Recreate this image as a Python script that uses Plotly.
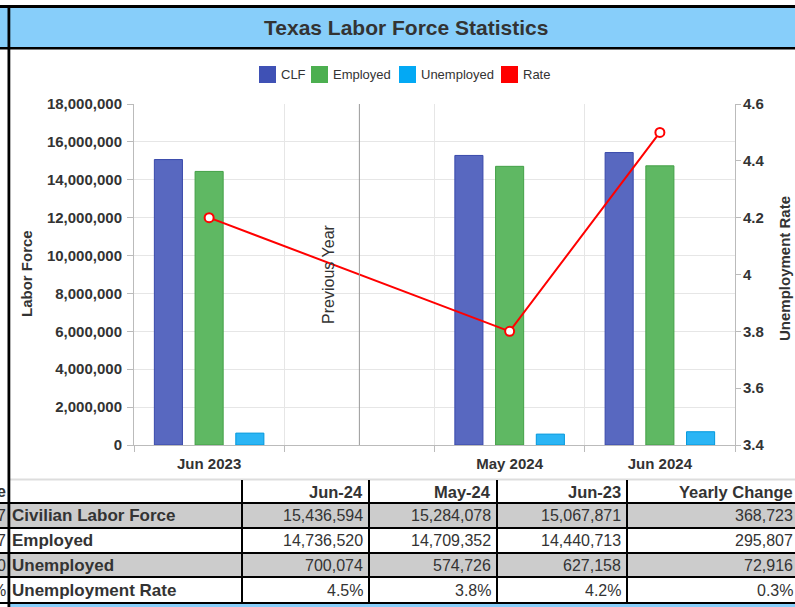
import plotly.graph_objects as go

# ---------------- data ----------------
categories = ["Jun 2023", " ", "May 2024", "Jun 2024"]
clf = [15067871, None, 15284078, 15436594]
employed = [14440713, None, 14709352, 14736520]
unemployed = [627158, None, 574726, 700074]
rate = [4.2, None, 3.8, 4.5]

series_names = ["CLF", "Employed", "Unemployed", "Rate"]

table_headers = ["Jun-24", "May-24", "Jun-23", "Yearly Change"]
table_labels = ["Civilian Labor Force", "Employed", "Unemployed", "Unemployment Rate"]
col_jun24 = ["15,436,594", "14,736,520", "700,074", "4.5%"]
col_may24 = ["15,284,078", "14,709,352", "574,726", "3.8%"]
col_jun23 = ["15,067,871", "14,440,713", "627,158", "4.2%"]
col_yearly = ["368,723", "295,807", "72,916", "0.3%"]
edge_texts = ["e", "7", "7", "0", "%"]

# ---------------- styling ----------------
W, H = 795, 607
FONT = "Liberation Sans, Arial, Helvetica, sans-serif"
TXT = "#333333"
AXIS_GRAY = "#bbbbbb"
GRID = "#e6e6e6"
BAND = "#87cefa"


def px(x):
    return x / W


def py(y):
    return 1 - y / H


fig = go.Figure()

bar_styles = [
    (series_names[0], clf, "#5868c0", "#3949ab"),
    (series_names[1], employed, "#5fb863", "#43a047"),
    (series_names[2], unemployed, "#2bb5f5", "#0398dc"),
]
for name, vals, fill, edge in bar_styles:
    fig.add_trace(go.Bar(
        x=categories, y=vals, name=name,
        marker=dict(color=fill, line=dict(color=edge, width=1)),
        showlegend=False,
    ))

fig.add_trace(go.Scatter(
    x=categories, y=rate, name=series_names[3], yaxis="y2",
    mode="lines+markers", connectgaps=True,
    line=dict(color="#ff0000", width=2),
    marker=dict(symbol="circle", size=9, color="white",
                line=dict(color="#ff0000", width=2)),
    showlegend=False, cliponaxis=False,
))

tickfont = dict(family=FONT, size=15, color=TXT, weight="bold")

fig.update_layout(
    width=W, height=H, autosize=False,
    margin=dict(l=0, r=0, t=0, b=0, pad=0, autoexpand=False),
    paper_bgcolor="white", plot_bgcolor="white",
    barmode="group", bargap=0.187, bargroupgap=0.31,
    showlegend=False,
    xaxis=dict(
        domain=[px(134), px(735)], automargin=False,
        type="category", categoryorder="array", categoryarray=categories,
        range=[-0.5, 3.5], tickson="boundaries",
        ticks="outside", ticklen=6, tickcolor=AXIS_GRAY,
        showgrid=True, gridcolor=GRID,
        showline=True, linecolor=AXIS_GRAY, linewidth=1,
        tickfont=tickfont, ticklabelstandoff=5, fixedrange=True,
    ),
    yaxis=dict(
        domain=[py(445), py(104)], automargin=False,
        range=[0, 18000000], dtick=2000000, tickformat=",",
        ticks="outside", ticklen=6, tickcolor=AXIS_GRAY,
        showgrid=True, gridcolor=GRID, zeroline=False,
        showline=True, linecolor=AXIS_GRAY, linewidth=1,
        tickfont=tickfont, ticklabelstandoff=2,
    ),
    yaxis2=dict(
        overlaying="y", side="right", anchor="x", automargin=False,
        range=[3.4, 4.6], dtick=0.2,
        ticks="outside", ticklen=5, tickcolor=AXIS_GRAY,
        showgrid=False, zeroline=False,
        showline=True, linecolor=AXIS_GRAY, linewidth=1,
        tickfont=tickfont, ticklabelstandoff=-1,
    ),
)

shapes = []
annotations = []


def rect(x0, y0, x1, y1, color, layer="above"):
    shapes.append(dict(type="rect", xref="paper", yref="paper",
                       x0=px(x0), x1=px(x1), y0=py(y1), y1=py(y0),
                       fillcolor=color, line=dict(width=0), layer=layer))


def text(x, y, s, size, anchor="left", bold=False, angle=0, color=TXT):
    annotations.append(dict(
        xref="paper", yref="paper", x=px(x), y=py(y), text=s,
        showarrow=False, xanchor=anchor, yanchor="middle", textangle=angle,
        borderpad=0,
        font=dict(family=FONT, size=size, color=color,
                  weight="bold" if bold else "normal"),
    ))


# header band
rect(0, 8, W, 47, BAND)
rect(0, 5, W, 8, "black")
rect(0, 47, W, 49.5, "black")
text(405.5, 27.5, "Texas Labor Force Statistics", 21, anchor="center", bold=True)

# legend (manual, squares + labels)
legend_colors = ["#3f51b5", "#4caf50", "#03a9f4", "#ff0000"]
legend_x = [259, 311, 399, 501]
for name, col, lx in zip(series_names, legend_colors, legend_x):
    rect(lx, 66, lx + 17, 83, col)
    text(lx + 21, 74.5, name, 13)

# axis titles
text(26.5, 273.5, "Labor Force", 15, anchor="center", bold=True, angle=-90)
text(784, 269, "Unemployment Rate", 15, anchor="center", bold=True, angle=-90)

# previous-year marker line
shapes.append(dict(type="line", xref="x", yref="y domain",
                   x0=categories[1], x1=categories[1], y0=0, y1=1,
                   line=dict(color="#999999", width=1), layer="above"))
annotations.append(dict(
    xref="x", yref="y domain", x=categories[1], y=0.5, xshift=-31,
    text="Previous Year", showarrow=False, textangle=-90,
    xanchor="center", yanchor="middle",
    font=dict(family=FONT, size=16, color=TXT),
))

# ---------------- table ----------------
row_edges = [480, 503, 528, 553, 577, 603]
rect(10, 478.5, W, 480.5, "#dddddd")
for i in (0, 2):
    rect(0, row_edges[i + 1], W, row_edges[i + 2], "#cccccc")
rect(10, 604, W, H, BAND)
for yb in row_edges[1:]:
    rect(0, yb - 1, W, yb + 1, "black")
col_lines = [242, 369, 497, 627]
for xl in col_lines:
    rect(xl - 1, 480, xl + 1, 603, "black")
rect(7.5, 8, 10.3, H, "black")

row_centers = [(row_edges[i] + row_edges[i + 1]) / 2 for i in range(5)]
right_edges = [364, 492, 622, 794]
for hdr, rx in zip(table_headers, right_edges):
    text(rx, row_centers[0], hdr, 16.5, anchor="right", bold=True)
for r, lab in enumerate(table_labels):
    text(11, row_centers[r + 1], lab, 17, bold=True)
    for col, rx in zip([col_jun24, col_may24, col_jun23, col_yearly], right_edges):
        text(rx, row_centers[r + 1], col[r], 16, anchor="right")
for r, et in enumerate(edge_texts):
    text(7, row_centers[r], et, 16, anchor="right", bold=(r == 0))

fig.update_layout(shapes=shapes, annotations=annotations)
fig.write_html(
    "out.html",
    config={"displayModeBar": False},
    post_script=(
        "document.body.style.margin='0';"
        "document.body.style.padding='0';"
        "document.documentElement.style.overflow='hidden';"
    ),
)
